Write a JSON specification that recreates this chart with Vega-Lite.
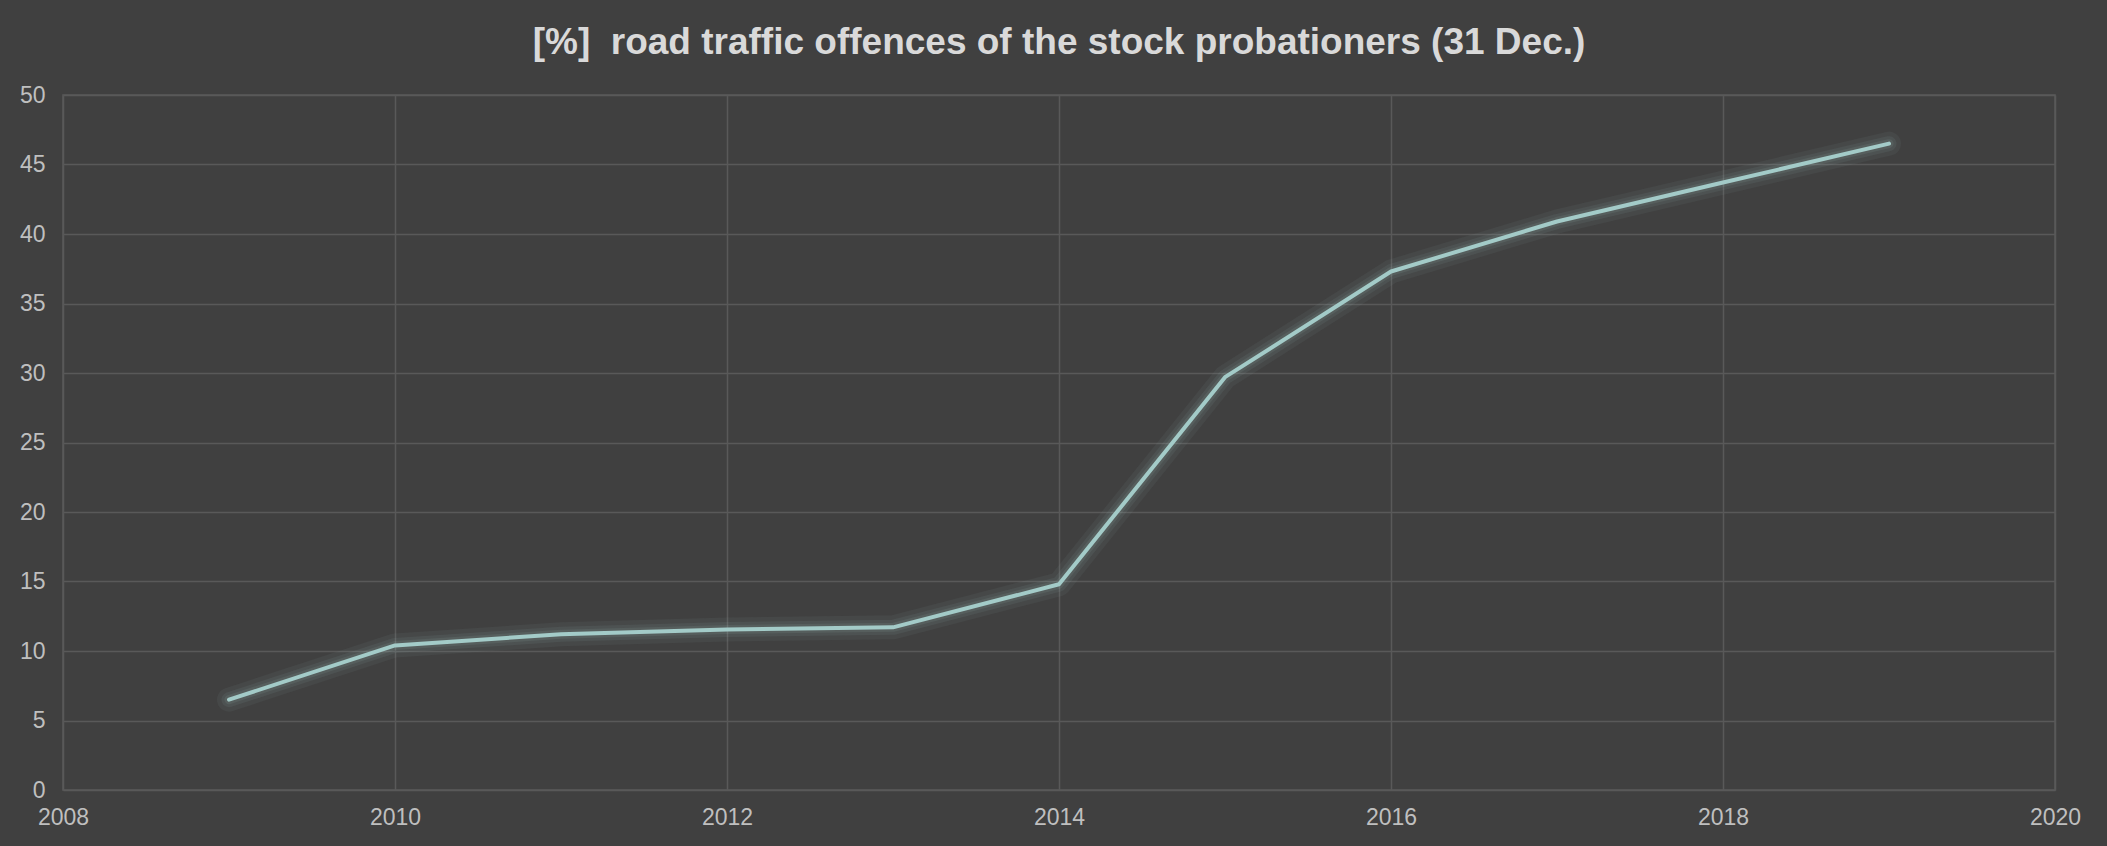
{
  "$schema": "https://vega.github.io/schema/vega-lite/v6.json",
  "autosize": "none",
  "width": 1992,
  "height": 695,
  "padding": {"left": 63, "top": 95, "right": 52, "bottom": 56},
  "background": "#404040",
  "title": {
    "text": "[%]\u00a0\u00a0road traffic offences of the stock probationers (31 Dec.)",
    "font": "Liberation Sans",
    "fontSize": 37,
    "fontWeight": "bold",
    "color": "#d9d9d9",
    "anchor": "middle",
    "offset": 22
  },
  "config": {
    "view": {"stroke": "#595959", "strokeWidth": 1.5},
    "axis": {
      "grid": true,
      "gridColor": "#595959",
      "gridWidth": 1.5,
      "domain": false,
      "ticks": false,
      "labelFont": "Liberation Sans",
      "labelFontSize": 23,
      "labelColor": "#bfbfbf",
      "title": null
    }
  },
  "data": {
    "values": [
      {"year": 2009, "pct": 6.5},
      {"year": 2010, "pct": 10.4},
      {"year": 2011, "pct": 11.2},
      {"year": 2012, "pct": 11.55},
      {"year": 2013, "pct": 11.7},
      {"year": 2014, "pct": 14.8},
      {"year": 2015, "pct": 29.7},
      {"year": 2016, "pct": 37.3},
      {"year": 2017, "pct": 40.9},
      {"year": 2018, "pct": 43.7},
      {"year": 2019, "pct": 46.5}
    ]
  },
  "encoding": {
    "x": {
      "field": "year",
      "type": "quantitative",
      "scale": {"domain": [2008, 2020], "nice": false, "zero": false},
      "axis": {"values": [2008, 2010, 2012, 2014, 2016, 2018, 2020], "format": "d", "labelPadding": 16, "labelFlush": false}
    },
    "y": {
      "field": "pct",
      "type": "quantitative",
      "scale": {"domain": [0, 50], "nice": false},
      "axis": {"values": [0, 5, 10, 15, 20, 25, 30, 35, 40, 45, 50], "labelPadding": 18}
    }
  },
  "layer": [
    {"mark": {"type": "line", "color": "#a3cbc8", "strokeWidth": 24, "opacity": 0.06, "strokeCap": "round", "strokeJoin": "round"}},
    {"mark": {"type": "line", "color": "#a3cbc8", "strokeWidth": 15, "opacity": 0.08, "strokeCap": "round", "strokeJoin": "round"}},
    {"mark": {"type": "line", "color": "#a3cbc8", "strokeWidth": 9, "opacity": 0.1, "strokeCap": "round", "strokeJoin": "round"}},
    {"mark": {"type": "line", "color": "#a3cbc8", "strokeWidth": 4, "strokeCap": "round", "strokeJoin": "round"}}
  ]
}
